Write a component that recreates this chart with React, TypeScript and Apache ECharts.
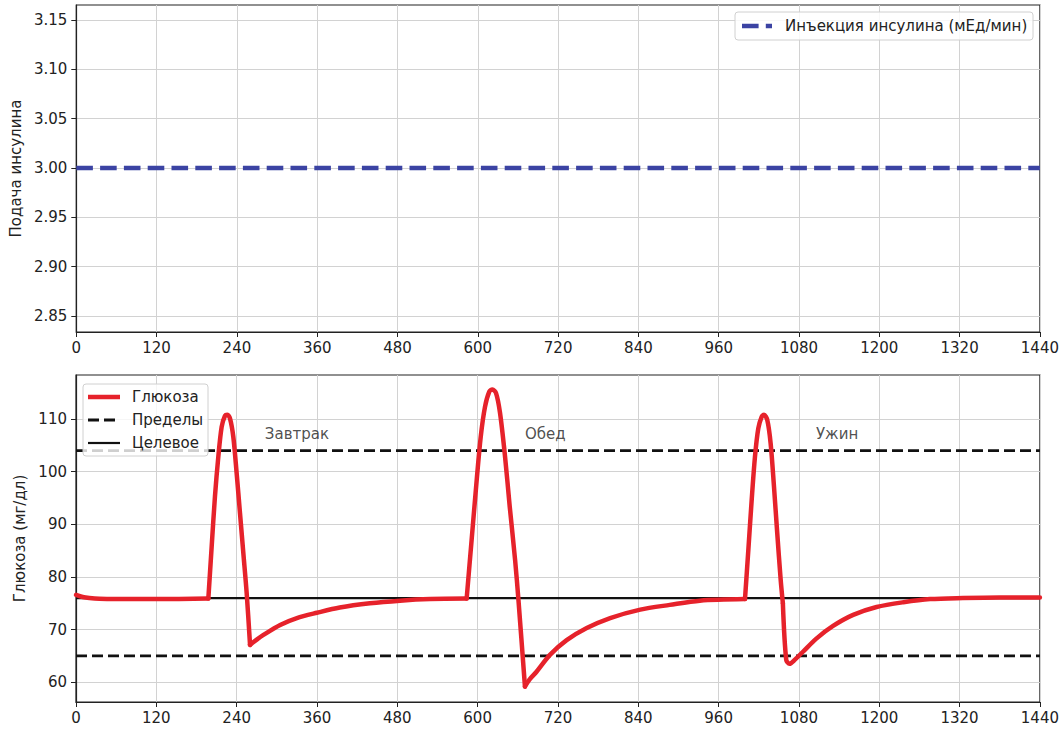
import React, { useEffect, useRef } from "react";
import * as echarts from "echarts";

const FONT = "DejaVu Sans";

const timeTicks = [0, 120, 240, 360, 480, 600, 720, 840, 960, 1080, 1200, 1320, 1440];
const insulinTicks = [2.85, 2.9, 2.95, 3.0, 3.05, 3.1, 3.15];
const glucoseTicks = [60, 70, 80, 90, 100, 110];

const insulinName = "Инъекция инсулина (мЕд/мин)";
const insulinRate: [number, number][] = [[0, 3.0], [1440, 3.0]];

const glucose: [number, number][] = [
  [0, 76.6], [10, 76.2], [20, 76.0], [35, 75.85], [60, 75.8], [120, 75.8], [197.7, 75.9],
  [202.7, 85.8], [207.6, 95.3], [212.6, 102.8], [217.6, 108.5], [222.6, 110.6], [226, 110.8],
  [230, 110.1], [235, 106.6], [240, 99.7], [245, 92.1], [250, 84.5], [255, 76.9], [260, 67.1],
  [270, 68.1], [280, 69.0], [305, 70.9], [330, 72.2], [360, 73.2], [394, 74.2], [439, 75.0],
  [484, 75.5], [529, 75.8], [583.6, 75.9],
  [591, 87.0], [598.6, 98.4], [604.6, 106.6], [611, 112.3], [617.4, 115.2], [622, 115.6],
  [627.5, 114.9], [633.5, 111.1], [641, 102.8], [648, 93.3], [656, 83.2], [661, 75.6], [670.7, 59.2],
  [678, 60.6], [688, 62.0], [708, 65.2], [733, 68.0], [763, 70.3], [798, 72.2], [843, 73.8],
  [887, 74.7], [932, 75.5], [999.4, 75.8],
  [1004.4, 85.1], [1009.4, 94.6], [1014.3, 102.8], [1019.3, 108.2], [1024.3, 110.4], [1027.8, 110.8],
  [1032.7, 109.8], [1037.7, 105.4], [1042.7, 97.2], [1047.6, 88.3], [1052.7, 79.5], [1056, 75.0],
  [1061, 64.3], [1066, 63.5], [1074, 64.3], [1086, 65.8], [1106, 68.3], [1131, 70.7], [1161, 72.8],
  [1196, 74.3], [1236, 75.2], [1276, 75.8], [1325, 76.0], [1380, 76.1], [1440, 76.1],
];
// times where the curve has a sharp corner (meal start / trough)
const glucoseCorners = [197.7, 260, 583.6, 670.7, 999.4, 1056];

const upperLimit: [number, number][] = [[0, 104], [1440, 104]];
const lowerLimit: [number, number][] = [[0, 65], [1440, 65]];
const targetLevel: [number, number][] = [[0, 76], [1440, 76]];

const mealNames = ["Завтрак", "Обед", "Ужин"];
const mealLabelX = [330, 701, 1137];
const mealLabelY = 107.2;

const glucoseLegend = ["Глюкоза", "Пределы", "Целевое"];

const BLUE = "#3b43a3";
const RED = "#e6222b";
const BLACK = "#111";

export default function App() {
  const ref = useRef<HTMLDivElement>(null);
  useEffect(() => {
    if (!ref.current) return;
    const chart = echarts.init(ref.current, undefined, { renderer: "svg" });
    const axisText = { color: "#222", fontFamily: FONT, fontSize: 15 };
    const gridLine = { show: true, lineStyle: { color: "#d2d2d2", width: 1 } };
    const xAxisBase = (gridIndex: number) => ({
      type: "value",
      gridIndex,
      min: 0,
      max: 1440,
      interval: 120,
      axisLine: { show: true, onZero: false, lineStyle: { color: "#222", width: 1.2 } },
      axisTick: { show: true, length: 5, customValues: timeTicks, lineStyle: { color: "#222" } },
      axisLabel: { ...axisText, margin: 8, customValues: timeTicks, formatter: (v: number) => String(v) },
      splitLine: gridLine,
    });
    const legendText = (x: number, y: number, text: string) => ({
      type: "text",
      x,
      y,
      z: 101,
      style: { text, fill: "#222", font: `15px "${FONT}"`, textVerticalAlign: "middle", verticalAlign: "middle" },
    });
    const handle = (x1: number, x2: number, y: number, stroke: string, lineWidth: number, lineDash?: number[]) => ({
      type: "line",
      z: 101,
      shape: { x1, y1: y, x2, y2: y },
      style: { stroke, lineWidth, lineDash: lineDash || null, lineCap: "butt" },
    });

    const bounds = [0, ...glucoseCorners, 1440];
    const segments = bounds.slice(0, -1).map((a, i) =>
      glucose.filter(([t]) => t >= a && t <= bounds[i + 1])
    );
    const glucoseSeries = segments.map((seg) => ({
      name: glucoseLegend[0],
      type: "line",
      xAxisIndex: 1,
      yAxisIndex: 1,
      data: seg,
      symbol: "none",
      smooth: 0.3,
      lineStyle: { color: RED, width: 4.5, join: "round", cap: "round" },
      z: 3,
    }));

    chart.setOption({
      animation: false,
      backgroundColor: "#fff",
      textStyle: { fontFamily: FONT },
      grid: [
        { left: 76, top: 5, width: 964, height: 327, show: true, borderColor: "#222", borderWidth: 1.2, backgroundColor: "transparent" },
        { left: 76, top: 375, width: 964, height: 327, show: true, borderColor: "#222", borderWidth: 1.2, backgroundColor: "transparent" },
      ],
      xAxis: [xAxisBase(0), xAxisBase(1)],
      yAxis: [
        {
          type: "value",
          gridIndex: 0,
          min: 2.8338,
          max: 3.1652,
          name: "Подача инсулина",
          nameLocation: "middle",
          nameGap: 52,
          nameTextStyle: { ...axisText },
          axisLine: { show: true, lineStyle: { color: "#222", width: 1.2 } },
          axisTick: { show: true, length: 5, customValues: insulinTicks, lineStyle: { color: "#222" } },
          axisLabel: { ...axisText, margin: 9, customValues: insulinTicks, formatter: (v: number) => v.toFixed(2) },
          splitLine: gridLine,
        },
        {
          type: "value",
          gridIndex: 1,
          min: 56.26,
          max: 118.35,
          name: "Глюкоза (мг/дл)",
          nameLocation: "middle",
          nameGap: 46,
          nameTextStyle: { ...axisText },
          axisLine: { show: true, lineStyle: { color: "#222", width: 1.2 } },
          axisTick: { show: true, length: 5, customValues: glucoseTicks, lineStyle: { color: "#222" } },
          axisLabel: { ...axisText, margin: 9, customValues: glucoseTicks, formatter: (v: number) => String(Math.round(v)) },
          splitLine: gridLine,
        },
      ],
      graphic: [
        {
          type: "rect",
          z: 100,
          shape: { x: 735, y: 12, width: 298, height: 28, r: 3 },
          style: { fill: "rgba(255,255,255,0.85)", stroke: "#d0d0d0", lineWidth: 1 },
        },
        handle(742, 772, 26, BLUE, 4.5, [16.6, 7.2]),
        legendText(785, 26, insulinName),
        {
          type: "rect",
          z: 100,
          shape: { x: 83, y: 384, width: 125, height: 72, r: 3 },
          style: { fill: "rgba(255,255,255,0.8)", stroke: "#d0d0d0", lineWidth: 1 },
        },
        handle(88, 120, 397, RED, 4.5),
        legendText(132, 397, glucoseLegend[0]),
        handle(88, 120, 420, BLACK, 2.8, [11, 5]),
        legendText(132, 420, glucoseLegend[1]),
        handle(88, 120, 443, BLACK, 2.2),
        legendText(132, 443, glucoseLegend[2]),
      ],
      series: [
        {
          name: insulinName,
          type: "line",
          xAxisIndex: 0,
          yAxisIndex: 0,
          data: insulinRate,
          symbol: "none",
          lineStyle: { color: BLUE, width: 4.5, type: [16.6, 7.2] },
        },
        {
          name: glucoseLegend[1],
          type: "line",
          xAxisIndex: 1,
          yAxisIndex: 1,
          data: upperLimit,
          symbol: "none",
          lineStyle: { color: BLACK, width: 2.8, type: [11, 5] },
        },
        {
          name: glucoseLegend[1],
          type: "line",
          xAxisIndex: 1,
          yAxisIndex: 1,
          data: lowerLimit,
          symbol: "none",
          lineStyle: { color: BLACK, width: 2.8, type: [11, 5] },
        },
        {
          name: glucoseLegend[2],
          type: "line",
          xAxisIndex: 1,
          yAxisIndex: 1,
          data: targetLevel,
          symbol: "none",
          lineStyle: { color: BLACK, width: 2.2 },
        },
        ...glucoseSeries,
        {
          name: "meals",
          type: "scatter",
          xAxisIndex: 1,
          yAxisIndex: 1,
          symbolSize: 1,
          itemStyle: { color: "rgba(0,0,0,0)" },
          silent: true,
          label: {
            show: true,
            position: "inside",
            color: "#222",
            fontFamily: FONT,
            fontSize: 15,
            formatter: (p: any) => p.name,
          },
          data: mealNames.map((n, i) => ({ name: n, value: [mealLabelX[i], mealLabelY] })),
        },
      ],
    });
    return () => chart.dispose();
  }, []);
  return <div ref={ref} style={{ position: "fixed", left: 0, top: 0, width: 1062, height: 729 }} />;
}
